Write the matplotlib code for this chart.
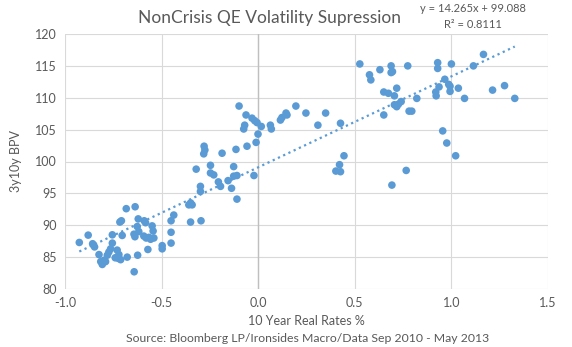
import matplotlib
matplotlib.use("Agg")
import matplotlib.pyplot as plt
import numpy as np

plt.rcParams['font.family'] = ['Lato', 'DejaVu Sans']

# 10-year real rate (%) vs 3y10y basis point value
real_rate = [
    -0.926, -0.880, -0.857, -0.847, -0.824, -0.815, -0.807, -0.798, -0.790, -0.781,
    -0.773, -0.764, -0.755, -0.755, -0.740, -0.730, -0.724, -0.721, -0.712, -0.716,
    -0.708, -0.704, -0.683, -0.678, -0.643, -0.637, -0.642, -0.624, -0.621, -0.626,
    -0.618, -0.638, -0.590, -0.583, -0.592, -0.580, -0.566, -0.557, -0.571, -0.549,
    -0.544, -0.540, -0.497, -0.497, -0.451, -0.451, -0.451, -0.437, -0.350, -0.359,
    -0.342, -0.350, -0.296, -0.299, -0.299, -0.321, -0.247, -0.247, -0.230, -0.206,
    -0.195, -0.156, -0.138, -0.127, -0.127, -0.110, -0.110, -0.022, -0.282, -0.276,
    -0.280, -0.187, -0.115, -0.058, -0.011, -0.001, 0.016, -0.070, -0.075, -0.099,
    -0.063, -0.032, -0.018, -0.006, 0.063, 0.068, 0.115, 0.123, 0.144, 0.149,
    0.195, 0.247, 0.309, 0.349, 0.426, 0.444, 0.421, 0.402, 0.426, 0.526,
    0.576, 0.583, 0.630, 0.650, 0.650, 0.674, 0.688, 0.695, 0.688, 0.705,
    0.717, 0.740, 0.726, 0.705, 0.717, 0.774, 0.781, 0.795, 0.821, 0.692,
    0.766, 0.929, 0.929, 1.000, 0.966, 0.936, 0.919, 0.921, 0.986, 0.993,
    0.993, 1.036, 1.068, 1.114, 1.166, 1.213, 1.275, 1.328, 0.955, 0.976,
    1.022,
]
bpv = [
    87.3, 88.45, 87.1, 86.6, 85.4, 84.3, 83.85, 84.5, 84.3, 85.3,
    85.8, 86.3, 87.2, 88.5, 84.9, 86.1, 84.8, 85.4, 84.6, 90.5,
    90.7, 88.4, 92.6, 85.0, 88.6, 92.9, 82.7, 85.3, 91.0, 89.8,
    89.0, 88.2, 90.7, 90.4, 88.3, 88.0, 88.1, 87.8, 86.2, 89.9,
    89.1, 88.0, 86.8, 86.3, 88.9, 87.2, 90.7, 91.6, 93.5, 93.2,
    93.2, 90.5, 90.7, 96.1, 95.3, 98.8, 99.4, 98.2, 97.9, 96.8,
    96.1, 97.0, 95.8, 99.2, 97.7, 97.8, 94.1, 97.8, 101.2, 101.8,
    102.4, 101.3, 101.9, 102.4, 103.0, 104.3, 105.5, 105.7, 105.1, 108.7,
    107.3, 106.8, 106.4, 106.1, 105.7, 105.1, 106.5, 106.9, 107.6, 107.3,
    108.7, 107.6, 105.7, 107.6, 106.0, 100.9, 99.5, 98.5, 98.4, 115.3,
    113.6, 112.8, 114.4, 107.3, 110.9, 110.7, 115.0, 114.1, 113.95, 110.3,
    111.5, 109.4, 109.0, 108.9, 108.6, 115.0, 107.9, 107.9, 109.9, 96.3,
    98.6, 115.5, 114.6, 115.3, 112.9, 111.7, 110.9, 110.3, 112.1, 111.8,
    111.0, 111.5, 109.9, 115.0, 116.8, 111.2, 111.9, 109.9, 104.8, 102.9,
    100.9,
]

# Linear trend as stated in the fit label
slope = 14.265
intercept = 99.088
r_squared = 0.8111

x_ticks = [-1.0, -0.5, 0.0, 0.5, 1.0, 1.5]
y_ticks = [80, 85, 90, 95, 100, 105, 110, 115, 120]

blue = '#5B9BD5'
grid_c = '#D9D9D9'
text_c = '#595959'

fig = plt.figure(figsize=(5.72, 3.47), dpi=100)
ax = fig.add_axes([65 / 572, 1 - 289 / 347, (548 - 65) / 572, (289 - 34) / 347])

ax.scatter(real_rate, bpv, s=30, color=blue, edgecolors='none', zorder=3)

xs = np.array([min(real_rate), max(real_rate)])
ax.plot(xs, slope * xs + intercept, color=blue, linestyle=(0, (1, 1.6)),
        linewidth=1.6, zorder=2)

ax.set_xlim(-1.0, 1.5)
ax.set_ylim(80, 120)
ax.set_xticks(x_ticks)
ax.set_yticks(y_ticks)
ax.set_xticklabels([f'{v:.1f}' for v in x_ticks])
ax.set_yticklabels([str(v) for v in y_ticks])
ax.tick_params(length=0, labelsize=9, colors=text_c, pad=6)
ax.grid(True, color=grid_c, linewidth=0.8, zorder=0)
ax.set_axisbelow(True)
for sp in ax.spines.values():
    sp.set_visible(False)
ax.axvline(0, color='#BFBFBF', linewidth=1.0, zorder=1)

ax.set_xlabel('10 Year Real Rates %', fontsize=9, color=text_c, labelpad=4)
ax.set_ylabel('3y10y BPV', fontsize=9, color=text_c, labelpad=9)

fig.text(270 / 572, 1 - 18 / 347, 'NonCrisis QE Volatility Supression',
         ha='center', va='center', fontsize=12.5, color=text_c)
fig.text(473 / 572, 1 - 8 / 347, f'y = {slope}x + {intercept}',
         ha='center', va='center', fontsize=8, color=text_c)
fig.text(473 / 572, 1 - 24 / 347, f'R² = {r_squared}',
         ha='center', va='center', fontsize=8, color=text_c)
fig.text(308 / 572, 1 - 338 / 347,
         'Source: Bloomberg LP/Ironsides Macro/Data Sep 2010 - May 2013',
         ha='center', va='center', fontsize=8.8, color=text_c)

fig.savefig('out.png', dpi=100, facecolor='white')
